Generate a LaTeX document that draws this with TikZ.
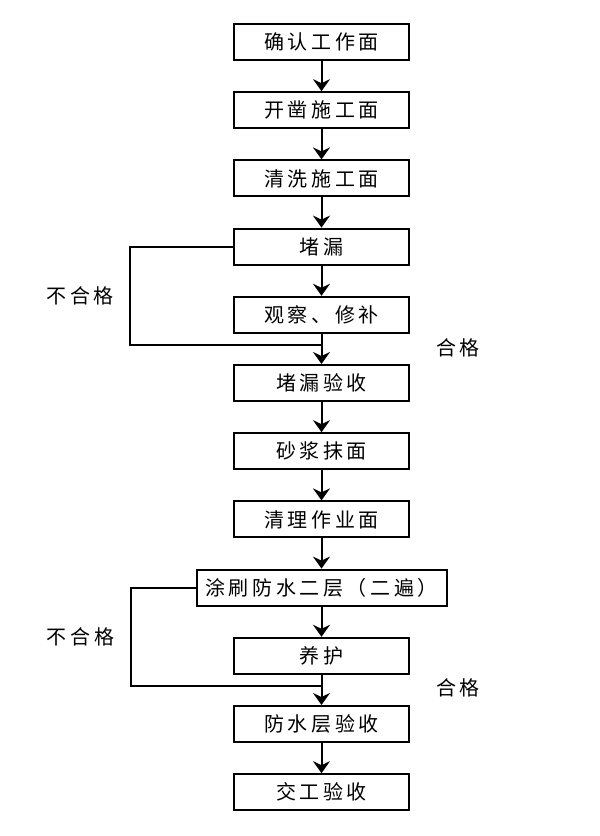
\documentclass[tikz,border=0pt]{standalone}
\usepackage{fontspec}
\newfontfamily\cjk[LetterSpace=18]{Noto Sans CJK SC}
\usetikzlibrary{arrows.meta,positioning}

\begin{document}
\begin{tikzpicture}[x=1pt,y=1pt,node distance=30.2pt,every node/.style={font=\cjk\fontsize{20}{24}\selectfont},box/.style={draw,line width=2pt,minimum width=175pt,minimum height=36pt,inner sep=0pt},wide/.style={box,minimum width=250pt},arr/.style={-{Stealth[length=12pt,width=17pt,inset=4pt]},line width=2pt},back/.style={line width=2pt}]
\useasboundingbox (0,0) rectangle (600,-836);
\node[box] (s1) at (321.5,-42) {确认工作面};
\node[box,below=of s1] (s2) {开凿施工面};
\node[box,below=of s2] (s3) {清洗施工面};
\node[box,below=of s3] (s4) {堵漏};
\node[box,below=of s4] (s5) {观察、修补};
\node[box,below=of s5] (s6) {堵漏验收};
\node[box,below=of s6] (s7) {砂浆抹面};
\node[box,below=of s7] (s8) {清理作业面};
\node[wide,below=of s8] (s9) {涂刷防水二层（二遍）};
\node[box,below=of s9] (s10) {养护};
\node[box,below=of s10] (s11) {防水层验收};
\node[box,below=of s11] (s12) {交工验收};
\coordinate[below=11pt of s5] (j1);
\coordinate[below=11pt of s10] (j2);
\node[anchor=west] (ok1) at ([xshift=111pt,yshift=-3pt]j1) {合格};
\node[anchor=west] (ok2) at ([xshift=111pt,yshift=-2pt]j2) {合格};
\draw[arr] (s1) -- (s2);\draw[arr] (s2) -- (s3);\draw[arr] (s3) -- (s4);\draw[arr] (s4) -- (s5);\draw[arr] (s5) -- (s6);\draw[arr] (s6) -- (s7);
\draw[arr] (s7) -- (s8);\draw[arr] (s8) -- (s9);\draw[arr] (s9) -- (s10);\draw[arr] (s10) -- (s11);\draw[arr] (s11) -- (s12);
% 不合格 return loops
\draw[back] (s4.west) -- ++(-103,0) |- node[pos=0.25,left=12pt] (ng1) {不合格} (j1);
\draw[back] (s9.west) -- ++(-65,0) |- node[pos=0.25,left=12pt] (ng2) {不合格} (j2);
\end{tikzpicture}
\end{document}
